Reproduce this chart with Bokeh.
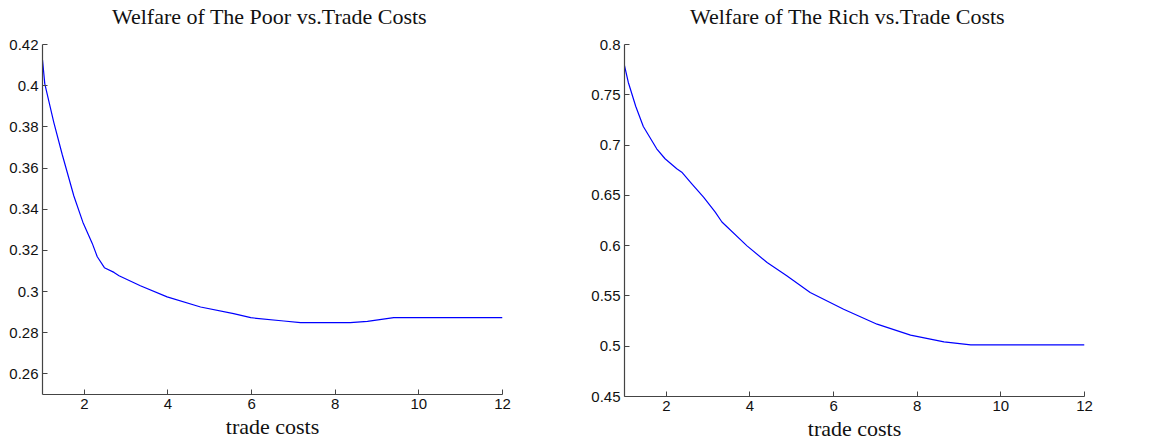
from bokeh.plotting import figure
from bokeh.layouts import row
from bokeh.models import FixedTicker, Range1d, Label
from bokeh.embed import file_html
from bokeh.resources import INLINE

# ---- data ----
poor_x = [1.0, 1.055, 1.27, 1.47, 1.75, 1.965, 2.19, 2.31, 2.48, 2.71, 2.83, 3.34, 3.98,
          4.78, 5.57, 5.98, 6.77, 7.17, 8.36, 8.77, 9.4, 12.0]
poor_y = [0.4126, 0.4009, 0.3822, 0.3667, 0.3464, 0.3337, 0.3234, 0.3169, 0.3116, 0.3093,
          0.3077, 0.3028, 0.2974, 0.2925, 0.2893, 0.2873, 0.2857, 0.2849, 0.2849, 0.2855,
          0.2873, 0.2873]

rich_x = [1.0, 1.09, 1.27, 1.45, 1.77, 1.97, 2.25, 2.37, 2.61, 2.89, 3.17, 3.33, 3.93,
          4.41, 4.88, 5.44, 6.24, 7.04, 7.84, 8.64, 9.28, 12.0]
rich_y = [0.779, 0.7625, 0.7384, 0.7185, 0.6963, 0.6864, 0.6764, 0.673, 0.6615, 0.6482,
          0.6333, 0.6235, 0.5998, 0.5832, 0.570, 0.5534, 0.5368, 0.5219, 0.511, 0.5044,
          0.5014, 0.5014]

x_ticks = [2, 4, 6, 8, 10, 12]
x_tick_labels = ["2", "4", "6", "8", "10", "12"]
poor_ticks = [0.26, 0.28, 0.30, 0.32, 0.34, 0.36, 0.38, 0.40, 0.42]
poor_tick_labels = ["0.26", "0.28", "0.3", "0.32", "0.34", "0.36", "0.38", "0.4", "0.42"]
rich_ticks = [0.45, 0.50, 0.55, 0.60, 0.65, 0.70, 0.75, 0.80]
rich_tick_labels = ["0.45", "0.5", "0.55", "0.6", "0.65", "0.7", "0.75", "0.8"]

titles = ["Welfare of The Poor vs.Trade Costs", "Welfare of The Rich vs.Trade Costs"]
x_label = "trade costs"

SERIF = "Liberation Serif"
SANS = "Liberation Sans"

TOP_PX = 44        # space above the axes box (title area)
TITLE_PX = 28      # title baseline height above the axes box


def make_panel(xs, ys, title, yrange, yticks, ylabels, border_left, border_right, frame_h,
               border_bottom, title_dx):
    y0, y1 = yrange
    per_px = (y1 - y0) / frame_h
    ytop = y1 + TOP_PX * per_px          # extend the frame upward to hold the title
    p = figure(output_backend="svg", toolbar_location=None,
               frame_width=460, frame_height=frame_h + TOP_PX,
               min_border_left=border_left, min_border_right=border_right,
               min_border_top=0, min_border_bottom=border_bottom,
               x_range=Range1d(1, 12), y_range=Range1d(y0, ytop))
    p.outline_line_color = None
    p.background_fill_color = "white"
    p.border_fill_color = "white"
    p.xgrid.visible = False
    p.ygrid.visible = False

    p.line(xs, ys, line_color="#0000ff", line_width=1.2)

    p.add_layout(Label(x=6.5, y=y1 + TITLE_PX * per_px, x_offset=title_dx, text=title,
                       text_align="center", text_baseline="alphabetic",
                       text_font=SERIF, text_font_size="22px", text_color="#111111"))

    for ax in (p.xaxis[0], p.yaxis[0]):
        ax.axis_line_color = "#444444"
        ax.axis_line_width = 1.2
        ax.major_tick_line_color = "#444444"
        ax.major_tick_in = 5
        ax.major_tick_out = 0
        ax.minor_tick_line_color = None
        ax.major_label_text_font = SANS
        ax.major_label_text_font_size = "15px"
        ax.major_label_text_color = "#111111"
        ax.major_label_standoff = 4

    p.yaxis.bounds = (y0, y1)
    p.xaxis.ticker = FixedTicker(ticks=x_ticks)
    p.xaxis.major_label_overrides = dict(zip(x_ticks, x_tick_labels))
    p.yaxis.ticker = FixedTicker(ticks=yticks)
    p.yaxis.major_label_overrides = dict(zip(yticks, ylabels))

    p.xaxis.axis_label = x_label
    p.xaxis.axis_label_text_font = SERIF
    p.xaxis.axis_label_text_font_size = "22px"
    p.xaxis.axis_label_text_font_style = "normal"
    p.xaxis.axis_label_text_color = "#111111"
    p.xaxis.axis_label_standoff = 2
    return p


left = make_panel(poor_x, poor_y, titles[0], (0.25, 0.42), poor_ticks, poor_tick_labels,
                  42, 40, 350, 48, -3)
right = make_panel(rich_x, rich_y, titles[1], (0.45, 0.80), rich_ticks, rich_tick_labels,
                   82, 20, 352, 46, -7)

layout = row(left, right)
open("out.html", "w").write(file_html(layout, INLINE))
